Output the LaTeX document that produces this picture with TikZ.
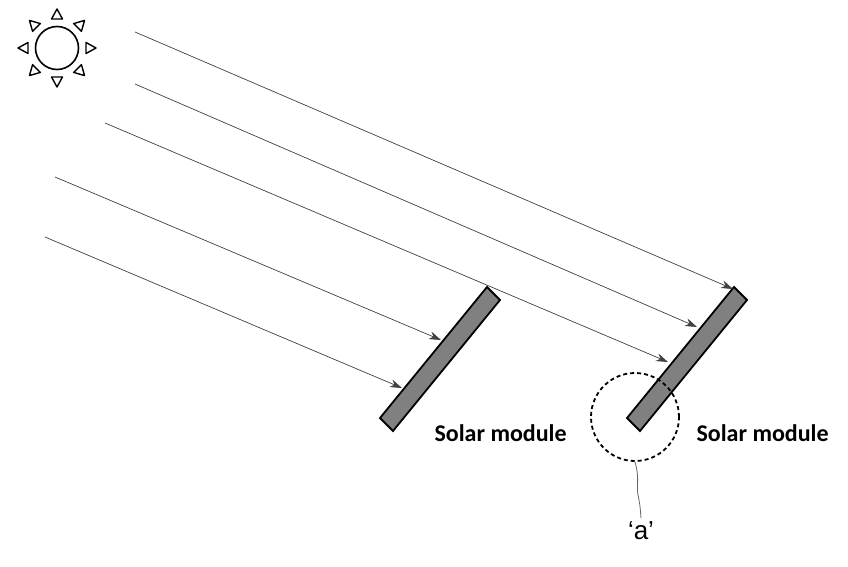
\documentclass[tikz,border=0pt]{standalone}
\usepackage{fontspec}
\setmainfont{Carlito}
\newfontfamily\arialf{Liberation Sans}
\usetikzlibrary{arrows.meta,calc}
\tikzset{ray/.style={draw=black!75,line width=0.7pt,-{Stealth[length=12pt,width=8pt]}},
panel/.style={draw=black,line width=1.8pt,fill=black!50},
lbl/.style={font=\fontsize{24}{28}\selectfont\bfseries,anchor=west},
tri/.style={draw=black,line width=1.4pt,fill=white,line join=round}}
\begin{document}
\begin{tikzpicture}[x=1pt,y=-1pt]
\useasboundingbox (0,0) rectangle (848,567);
% sun
\node[draw,circle,line width=1.6pt,minimum size=43pt,inner sep=0] (sun) at (57,48) {};
\foreach \a in {0,45,...,315}{
 \draw[tri] ($(57,48)+(\a:29)+(\a+90:5.5)$) -- ($(57,48)+(\a:29)+(\a-90:5.5)$) -- ($(57,48)+(\a:39)$) -- cycle;}
% panels
\draw[panel] (487,287) -- (500,300) -- (393,431) -- (380,418) -- cycle;
\draw[panel] (734,287) -- (747,300) -- (640,431) -- (627,418) -- cycle;
\coordinate (p1) at (733,289);
\coordinate (p2) at (697,327);
\coordinate (p3) at (668,362);
\coordinate (p4) at (441,340);
\coordinate (p5) at (402,388);
\coordinate (s1) at (135,32);
\coordinate (s2) at (135,84);
\coordinate (s3) at (105,123);
\coordinate (s4) at (55,177);
\coordinate (s5) at (45,237);
\foreach \i in {1,...,5}{\draw[ray] (s\i) -- (p\i);}
\node[lbl] (m1) at (431,433) {Solar module};
\node[lbl] (m2) at (693,433) {Solar module};
\node[draw,circle,line width=1.8pt,dash pattern=on 4pt off 3pt,minimum size=88pt,inner sep=0] (c) at (635,417) {};
\node[font=\arialf\fontsize{26}{28}\selectfont] (a) at (641,531) {‘a’};
\draw[black!60,line width=0.8pt] (c.south) .. controls (640,480) and (636,485) .. (638,495) .. controls (640,505) and (640,505) .. (a.north);
\end{tikzpicture}
\end{document}
